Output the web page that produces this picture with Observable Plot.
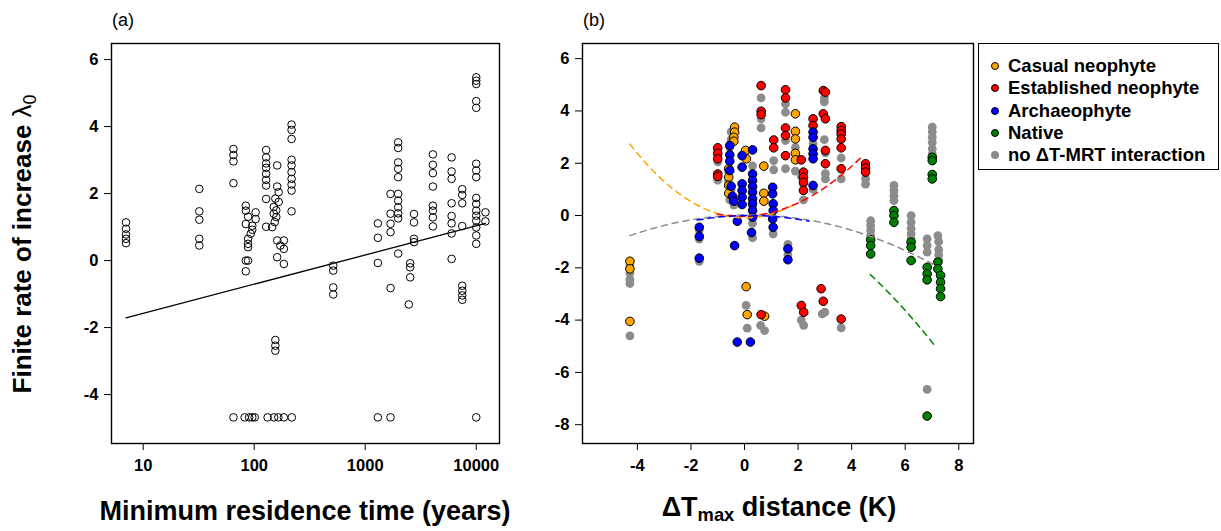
<!DOCTYPE html>
<html><head><meta charset="utf-8">
<script src="https://cdn.jsdelivr.net/npm/d3@7"></script>
<script src="https://cdn.jsdelivr.net/npm/@observablehq/plot@0.6"></script>
<style>
body{margin:0;background:#fff;font-family:"Liberation Sans",Arial,sans-serif;}
#wrap{position:relative;width:1221px;height:531px;overflow:hidden;background:#fff;}
.abs{position:absolute;white-space:nowrap;line-height:1;}
.panel{position:absolute;top:0;}
#legend{position:absolute;left:978px;top:43px;width:241px;height:127px;border:1.3px solid #000;box-sizing:border-box;background:#fff;}
.li{position:absolute;left:0;font-weight:bold;font-size:18.5px;line-height:1;}
.li .dot{position:absolute;left:12px;width:8px;height:8px;border-radius:50%;box-sizing:border-box;}
.li .txt{position:absolute;left:29px;top:-9px;white-space:nowrap;}
sub{font-size:0.68em;vertical-align:-0.3em;}
</style></head><body><div id="wrap"></div>
<script>
// ---------- Panel (a): minimum residence time vs lambda0 ----------
const aXTicks = [10, 100, 1000, 10000];
const aYTicks = [-4, -2, 0, 2, 4, 6];
const mrtPoints = [
  [7,1.14],[7,0.95],[7,0.78],[7,0.65],[7,0.52],
  [32,2.14],[32,1.47],[32,1.22],[32,0.65],[32,0.45],
  [65,3.33],[65,3.15],[65,2.96],[65,2.31],[65,-4.68],
  [84,1.64],[84,1.49],[103,1.44],[88,1.31],[103,1.24],[84,1.09],[96,1.04],[96,0.92],[93,0.80],[88,0.65],[88,0.50],[88,0.40],[84,0],[88,0],[84,-0.32],
  [82,-4.68],[90,-4.68],[96,-4.68],[101,-4.68],
  [128,3.30],[128,3.08],[128,2.90],[128,2.77],[128,2.59],[128,2.41],[128,2.24],[128,1.84],[128,1.01],
  [161,2.84],[161,2.21],[166,2.04],[155,1.85],[166,1.75],[150,1.6],[158,1.5],[150,1.4],[158,1.3],[153,1.15],[145,1.0],
  [161,0.60],[185,0.60],[172,0.45],[185,0.35],[161,0.10],[185,-0.10],
  [155,-2.37],[155,-2.54],[155,-2.69],
  [217,4.06],[217,3.90],[217,3.63],[217,3.01],[217,2.84],[217,2.64],[217,2.44],[217,2.27],[217,2.09],[217,1.47],
  [132,-4.68],[151,-4.68],[165,-4.68],[185,-4.68],[218,-4.68],
  [515,-0.15],[515,-0.30],[515,-0.80],[515,-1.01],
  [1300,1.11],[1300,0.68],[1300,-0.07],[1300,-4.68],
  [1690,1.99],[1690,1.40],[1690,1.10],[1690,0.85],[1690,-0.82],[1690,-4.68],
  [1980,3.53],[1980,3.36],[1980,2.93],[1980,2.74],[1980,2.49],[1980,1.99],[1980,1.79],[1980,1.59],[1980,1.41],[1980,1.26],[1980,0.21],
  [2750,1.39],[2750,1.14],[2750,0.65],[2750,0.55],
  [2540,-0.08],[2540,-0.20],[2540,-0.50],[2470,-1.31],
  [4070,3.17],[4070,2.86],[4070,2.61],[4070,2.21],[4070,1.64],[4070,1.49],[4070,1.29],[4070,1.02],
  [6000,3.08],[6000,2.66],[6000,2.44],[6000,1.71],[6000,1.33],[6000,1.11],[6000,0.81],[6000,0.05],
  [7480,2.13],[7480,1.96],[7480,1.71],[7480,1.03],[7480,-0.75],[7480,-0.90],[7480,-1.04],[7480,-1.17],
  [10000,5.47],[10000,5.37],[10000,5.27],[10000,4.76],[10000,4.56],[10000,2.89],[10000,2.69],[10000,2.49],[10000,1.87],[10000,1.69],[10000,1.49],[10000,1.34],[10000,1.19],[10000,0.99],[10000,0.75],[10000,0.50],[10000,-4.68],
  [12100,1.44],[12100,1.17]
];
// fitted regression: lambda0 = intercept + slope * log10(MRT)
const regIntercept = -2.446;
const regSlope = 0.871;
const regRange = [7, 12100];

// ---------- Panel (b): Delta Tmax distance ----------
const bXTicks = [-4, -2, 0, 2, 4, 6, 8];
const bYTicks = [-8, -6, -4, -2, 0, 2, 4, 6];
const groupNames = ["Casual neophyte", "Established neophyte", "Archaeophyte", "Native", "no \u0394T-MRT interaction"];
const groupColors = ["#FFA500", "#FF0000", "#0000FF", "#008000", "#8C8C8C"];
const casual = [
  [-4.28,-1.75],[-4.28,-2.04],[-4.28,-4.05],
  [-0.37,3.38],[-0.37,3.19],[-0.40,2.99],[-0.40,2.84],[-0.59,1.79],[-0.59,1.47],[-0.59,1.15],[-0.59,0.85],
  [0.04,2.49],[0.07,2.17],[0.72,1.89],[0.72,0.85],[0.72,0.55],[0.06,-2.72],[0.10,-3.79],[0.75,-3.85],
  [1.90,3.89],[1.90,3.22],[1.90,2.93],[1.90,2.38],[1.90,2.13]
];
const established = [
  [-1.0,2.59],[-1.0,2.38],[-1.0,2.17],[-1.0,1.59],[-1.0,1.50],
  [0.62,4.97],[0.62,3.99],[0.62,3.86],[0.62,-3.79],
  [1.09,2.89],[1.09,2.59],
  [1.53,4.81],[1.53,4.50],[1.53,3.35],[1.53,3.06],[1.53,2.29],
  [2.56,3.70],[2.56,3.44],
  [2.94,4.78],[3.02,4.72],[2.94,3.89],[3.02,3.70],[3.02,2.49],[3.02,1.98],
  [2.12,2.13],[2.20,1.66],[2.20,1.46],[2.20,1.27],[2.20,0.96],
  [3.61,3.40],[3.61,3.25],[3.61,3.12],[3.61,2.93],[3.61,2.59],[3.61,1.79],
  [4.52,1.98],[4.52,1.82],[4.52,1.66],
  [2.86,-2.80],[2.94,-3.28],[2.12,-3.44],[2.21,-3.70],[3.61,-3.96]
];
const archaeophyte = [
  [-1.69,-0.45],[-1.69,-0.80],[-1.69,-1.63],
  [-0.55,2.68],[-0.55,2.32],[-0.55,2.08],[-0.55,1.72],[-0.50,1.12],[-0.45,0.74],[-0.40,0.55],[-0.37,-1.15],
  [-0.09,2.29],[0.30,2.51],[-0.09,1.85],[-0.09,1.21],[-0.09,0.96],[-0.09,0.70],[-0.09,0.42],
  [0.30,1.59],[0.30,1.34],[0.30,1.11],[0.30,0.89],[0.30,0.64],[0.30,0.45],[0.30,0.19],[0.30,-0.06],[-0.27,-0.22],[0.26,-0.65],
  [-0.27,-4.84],[0.22,-4.84],
  [1.05,1.08],[1.05,0.83],[1.07,0.45],[1.07,0.19],[1.05,-0.13],[1.07,-0.45],
  [1.62,-1.27],[1.62,-1.69],
  [2.56,3.19],[2.56,2.99],[2.56,2.55],[2.56,2.36],[2.56,2.17],[2.56,1.15]
];
const native = [
  [4.71,-0.93],[4.71,-1.15],[4.71,-1.47],
  [5.58,0.19],[5.58,0.0],[5.58,-0.26],
  [6.22,-1.02],[6.22,-1.21],[6.22,-1.72],
  [6.82,-1.98],[6.82,-2.23],[6.82,-2.46],[6.82,-7.67],
  [7.22,-1.78],[7.22,-2.04],[7.32,-2.29],[7.32,-2.55],[7.32,-2.80],[7.32,-3.10],
  [7.01,2.23],[7.01,2.10],[7.01,1.57],[7.01,1.40]
];
const noInteraction = [
  [-4.28,-1.9],[-4.28,-2.2],[-4.28,-2.45],[-4.28,-2.6],[-4.28,-4.6],
  [-1.69,-0.55],[-1.69,-0.9],[-1.69,-1.75],
  [-1.0,2.5],[-1.0,2.3],[-1.0,2.05],[-1.0,1.45],[-1.0,1.35],
  [-0.5,3.2],[-0.5,2.9],[-0.55,2.6],[-0.6,1.7],[-0.6,1.3],[-0.5,1.0],[-0.5,0.75],[-0.55,0.6],[-0.4,0.4],
  [0.0,2.3],[0.3,1.9],[0.3,0.35],[0.3,-0.3],[0.3,-0.85],[-0.09,0.9],
  [0.06,-3.44],[0.10,-4.31],[0.60,-4.2],[0.75,-4.4],
  [0.62,4.5],[0.62,3.7],[0.62,3.35],
  [1.09,2.1],[1.09,1.75],[1.07,-0.7],
  [1.53,4.27],[1.53,3.95],[1.53,2.87],[1.53,1.79],
  [1.62,-1.1],[1.62,-1.5],
  [1.9,2.6],[1.9,1.7],
  [2.12,1.5],[2.2,1.2],[2.2,0.6],
  [2.56,2.75],[2.56,1.0],
  [2.98,4.5],[2.98,4.35],[2.98,2.9],[3.02,2.4],[3.02,1.6],[3.02,1.4],
  [3.61,2.2],[3.61,1.4],
  [4.52,1.4],[4.52,1.2],
  [2.12,-4.0],[2.21,-4.2],[2.90,-3.76],[3.00,-3.7],[3.61,-4.30],
  [4.71,-0.2],[4.71,-0.38],[4.71,-0.57],[4.71,-0.77],
  [5.58,1.15],[5.58,0.95],[5.58,0.76],[5.58,0.57],
  [6.22,0.0],[6.22,-0.26],[6.22,-0.5],[6.22,-0.7],[6.22,-0.89],
  [6.82,-0.89],[6.82,-1.15],[6.82,-1.40],[6.82,-6.65],
  [7.22,-0.77],[7.25,-1.0],[7.25,-1.3],[7.25,-1.5],[7.25,-1.7],
  [7.01,3.38],[7.01,3.2],[7.01,3.0],[7.01,2.8],[7.01,2.55],[7.01,2.35]
];
// fitted quadratic curves: y = a*x^2 + b*x + c over [x0, x1]
const curveGroup = ["no \u0394T-MRT interaction", "Casual neophyte", "Established neophyte", "Archaeophyte", "Native"];
const curveA = [-0.0401, 0.1525, 0.112, -0.045, -0.0668];
const curveB = [0.0138, -0.0061, 0.0294, 0.018, -0.341];
const curveC = [0.0236, -0.089, -0.026, -0.0018, 0.819];
const curveX0 = [-4.28, -4.28, -1.02, -1.77, 4.70];
const curveX1 = [7.19, 1.90, 4.39, 2.40, 7.17];

// ---------- build ----------
const wrap = document.getElementById("wrap");
const axisStyle = {fontFamily: "'Liberation Sans', Arial, sans-serif", fontSize: "16.5px", fontWeight: "bold", background: "transparent", overflow: "visible"};
const fmt = d => String(d);

const regPts = regRange.map(x => ({x, y: regIntercept + regSlope * Math.log10(x)}));

const plotA = Plot.plot({
  width: 540, height: 531,
  marginLeft: 111, marginRight: 41, marginTop: 43, marginBottom: 88,
  style: axisStyle,
  x: {type: "log", domain: [5.18, 16200]},
  y: {domain: [-5.46, 6.48]},
  marks: [
    Plot.axisX({ticks: aXTicks, tickFormat: fmt, tickSize: 7, tickPadding: 9, label: null}),
    Plot.axisY({ticks: aYTicks, tickFormat: fmt, tickSize: 7, tickPadding: 6, label: null}),
    Plot.dot(mrtPoints, {x: d => d[0], y: d => d[1], r: 3.8, stroke: "black", strokeWidth: 1, fill: "none"}),
    Plot.line(regPts, {x: "x", y: "y", stroke: "black", strokeWidth: 1.3}),
    Plot.frame({stroke: "black", strokeWidth: 1.4})
  ]
});
plotA.classList.add("panel");
plotA.style.left = "0px";
wrap.appendChild(plotA);

const groups = [casual, established, archaeophyte, native];
const coloured = [];
groups.forEach((arr, i) => arr.forEach(d => coloured.push({x: d[0], y: d[1], g: groupNames[i]})));
const grey = noInteraction.map(d => ({x: d[0], y: d[1]}));

const curvePts = [];
curveGroup.forEach((g, i) => {
  const n = 60;
  for (let k = 0; k <= n; k++) {
    const x = curveX0[i] + (curveX1[i] - curveX0[i]) * k / n;
    curvePts.push({g, x, y: curveA[i] * x * x + curveB[i] * x + curveC[i]});
  }
});
const colorOf = g => groupColors[groupNames.indexOf(g)];

const plotB = Plot.plot({
  width: 440, height: 531,
  marginLeft: 42, marginRight: 7, marginTop: 43, marginBottom: 88,
  style: axisStyle,
  x: {domain: [-6.05, 8.55]},
  y: {domain: [-8.72, 6.58]},
  marks: [
    Plot.axisX({ticks: bXTicks, tickFormat: fmt, tickSize: 7, tickPadding: 9, label: null}),
    Plot.axisY({ticks: bYTicks, tickFormat: fmt, tickSize: 7, tickPadding: 6, label: null}),
    Plot.dot(grey, {x: "x", y: "y", r: 4.4, fill: groupColors[4], stroke: "none"}),
    Plot.dot(coloured, {x: "x", y: "y", r: 4.3, fill: d => colorOf(d.g), stroke: "black", strokeWidth: 1}),
    ...curveGroup.map(g => Plot.line(curvePts.filter(d => d.g === g), {x: "x", y: "y", stroke: colorOf(g), strokeWidth: 1.5, strokeDasharray: "6,5"})),
    Plot.frame({stroke: "black", strokeWidth: 1.4})
  ]
});
plotB.classList.add("panel");
plotB.style.left = "540px";
wrap.appendChild(plotB);

function addText(html, css) {
  const d = document.createElement("div");
  d.className = "abs";
  d.innerHTML = html;
  Object.assign(d.style, css);
  wrap.appendChild(d);
  return d;
}
addText("(a)", {left: "112px", top: "11px", fontSize: "18px"});
addText("(b)", {left: "583px", top: "11px", fontSize: "18px"});
addText("Minimum residence time (years)", {left: "305px", top: "511px", fontSize: "27px", fontWeight: "bold", transform: "translate(-50%,-50%)"});
addText("\u0394T<sub>max</sub> distance (K)", {left: "779px", top: "509px", fontSize: "27px", fontWeight: "bold", transform: "translate(-50%,-50%)"});
addText("Finite rate of increase <span style='font-weight:normal'>\u03bb<sub>0</sub></span>", {left: "24px", top: "244px", fontSize: "26px", fontWeight: "bold", transform: "translate(-50%,-50%) rotate(-90deg)"});

// legend
const leg = document.createElement("div");
leg.id = "legend";
wrap.appendChild(leg);
groupNames.forEach((g, i) => {
  const item = document.createElement("div");
  item.className = "li";
  item.style.top = (22 + i * 22.3) + "px";
  const dot = document.createElement("span");
  dot.className = "dot";
  dot.style.top = "-4px";
  dot.style.background = groupColors[i];
  dot.style.border = i < 4 ? "1px solid #000" : "none";
  const t = document.createElement("span");
  t.className = "txt";
  t.textContent = g;
  item.appendChild(dot);
  item.appendChild(t);
  leg.appendChild(item);
});
</script>
</body></html>
